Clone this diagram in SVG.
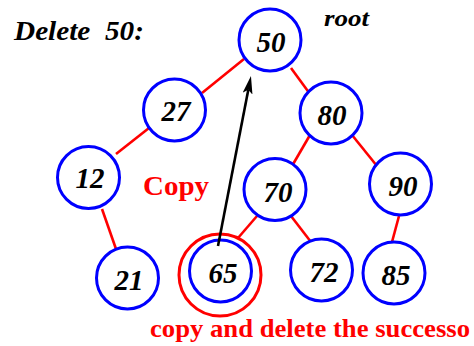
<svg xmlns="http://www.w3.org/2000/svg" width="474" height="346" viewBox="0 0 474 346">
  <style>
    .node circle { fill: #ffffff; stroke: #0000ff; stroke-width: 3; }
    .node text { font-family: "Liberation Serif", "Times New Roman", serif; font-weight: bold; font-style: italic; font-size: 29px; fill: #000000; text-anchor: middle; }
    .edge { stroke: #ff0000; stroke-width: 2.6; fill: none; }
    .title { font-family: "Liberation Serif", "Times New Roman", serif; font-weight: bold; font-style: italic; fill: #000000; white-space: pre; }
    .note { font-family: "Liberation Serif", "Times New Roman", serif; font-weight: bold; fill: #ff0000; }
  </style>
  <defs>
    <marker id="arrowhead" viewBox="0 0 18 10" refX="4" refY="5" markerWidth="18" markerHeight="10" markerUnits="userSpaceOnUse" orient="auto">
      <path d="M0,0 L18,5 L0,10 L4,5 Z" fill="#000000"/>
    </marker>
  </defs>

  <rect width="474" height="346" fill="#ffffff"/>

  <!-- headings -->
  <text class="title" x="14" y="40" font-size="28" textLength="130" lengthAdjust="spacingAndGlyphs">Delete  50:</text>
  <text class="title" x="324" y="26" font-size="24" textLength="45" lengthAdjust="spacingAndGlyphs">root</text>

  <!-- tree edges -->
  <g id="edges">
    <line class="edge" x1="244" y1="59" x2="202" y2="93"/>
    <line class="edge" x1="149" y1="128" x2="116" y2="154"/>
    <line class="edge" x1="102" y1="209" x2="116" y2="249"/>
    <line class="edge" x1="291" y1="68" x2="310" y2="94"/>
    <line class="edge" x1="310" y1="135" x2="292" y2="166"/>
    <line class="edge" x1="352" y1="135" x2="377" y2="166"/>
    <line class="edge" x1="257" y1="216" x2="238" y2="238"/>
    <line class="edge" x1="291" y1="216" x2="311" y2="242"/>
    <line class="edge" x1="399" y1="216" x2="392" y2="242"/>
  </g>

  <!-- tree nodes -->
  <g id="n50" class="node"><circle cx="270" cy="40" r="31"/><text x="271" y="52">50</text></g>
  <g id="n27" class="node"><circle cx="174.5" cy="110" r="31"/><text x="176" y="121">27</text></g>
  <g id="n80" class="node"><circle cx="331" cy="113" r="31"/><text x="332" y="125">80</text></g>
  <g id="n12" class="node"><circle cx="88.5" cy="177.5" r="31"/><text x="90" y="188">12</text></g>
  <g id="n70" class="node"><circle cx="275" cy="189.5" r="31"/><text x="278" y="202">70</text></g>
  <g id="n90" class="node"><circle cx="400.5" cy="184" r="31"/><text x="403" y="196">90</text></g>
  <g id="n21" class="node"><circle cx="127.5" cy="278" r="31"/><text x="129" y="290">21</text></g>
  <g id="n65" class="node">
    <circle cx="220" cy="275" r="41" style="fill:none;stroke:#ff0000;stroke-width:3"/>
    <circle cx="220.5" cy="271" r="31"/>
    <text x="223" y="283">65</text>
  </g>
  <g id="n72" class="node"><circle cx="321.5" cy="270" r="31"/><text x="324" y="282">72</text></g>
  <g id="n85" class="node"><circle cx="394" cy="273" r="31"/><text x="396" y="285">85</text></g>

  <!-- copy arrow from successor up to root -->
  <g id="copy-arrow">
    <line x1="218" y1="246" x2="248.3" y2="89.7" stroke="#000000" stroke-width="2.6" marker-end="url(#arrowhead)"/>
  </g>

  <!-- annotations -->
  <text class="note" x="143" y="195" font-size="28" textLength="66" lengthAdjust="spacingAndGlyphs">Copy</text>
  <text class="note" x="150" y="337" font-size="25" textLength="320" lengthAdjust="spacingAndGlyphs">copy and delete the successo</text>
</svg>
